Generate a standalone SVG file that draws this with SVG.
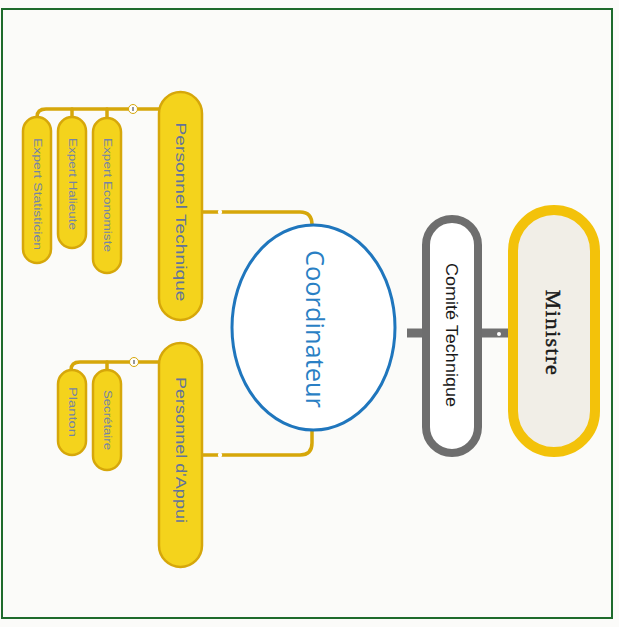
<svg xmlns="http://www.w3.org/2000/svg" width="619" height="627" viewBox="0 0 619 627">
<style>
.bg{fill:#fbfbf9}
.frame{fill:none;stroke:#1e6b2c;stroke-width:2}
.ynode{fill:#f4d31c;stroke:#d6a70a;stroke-width:2.5}
.ylink{fill:none;stroke:#d6a70a;stroke-width:3.5;stroke-linecap:round}
.glink{fill:none;stroke:#707070;stroke-width:9}
.dot{fill:#ffffff;stroke:#d6a70a;stroke-width:1}
.lbl{font-family:"Liberation Sans",Arial,sans-serif;fill:#63739a;text-anchor:middle;dominant-baseline:central}
.sm{fill:#7584a6}
</style>
<rect class="bg" x="0" y="0" width="619" height="627"/>
<rect class="frame" x="2" y="9" width="610" height="609"/>

<g id="connectors">
  <path class="ylink" d="M202,212 H300 Q312,212 312,225"/>
  <path class="ylink" d="M312,430 V443 Q312,455 300,455 H202"/>
  <path class="ylink" d="M159,109 H46 Q37,109 37,117"/>
  <path class="ylink" d="M72,109 V117"/>
  <path class="ylink" d="M107,109 V118"/>
  <path class="ylink" d="M159,362 H80 Q71,362 71,370"/>
  <path class="ylink" d="M107,362 V370"/>
  <path class="glink" d="M407,333 H426"/>
  <path class="glink" d="M478,333 H510"/>
  <circle cx="220" cy="212" r="2.2" fill="#ffffff"/>
  <circle cx="220" cy="455" r="2.2" fill="#ffffff"/>
  <circle cx="499" cy="334" r="2" fill="#ffffff"/>
  <g id="collapse-tech">
    <circle class="dot" cx="133" cy="109" r="4.5"/>
    <line x1="133" y1="107" x2="133" y2="111" stroke="#555555" stroke-width="1.2"/>
  </g>
  <g id="collapse-appui">
    <circle class="dot" cx="134" cy="362" r="4.5"/>
    <line x1="134" y1="360" x2="134" y2="364" stroke="#555555" stroke-width="1.2"/>
  </g>
</g>

<g id="ministre">
  <rect x="513" y="210" width="82" height="242" rx="41" fill="#f1eee7" stroke="#f3c20a" stroke-width="10"/>
  <text x="553" y="333" transform="rotate(90 553 333)" font-family="'Liberation Serif','Times New Roman',serif" font-size="22" letter-spacing="1.5" fill="#1a1a1a" stroke="#1a1a1a" stroke-width="0.5" text-anchor="middle" dominant-baseline="central">Ministre</text>
</g>

<g id="comite">
  <rect x="426" y="219" width="52" height="234" rx="26" fill="#ffffff" stroke="#6e6e6e" stroke-width="8"/>
  <text x="451" y="335" transform="rotate(90 451 335)" font-family="'Liberation Sans',Arial,sans-serif" font-size="16" textLength="144" lengthAdjust="spacingAndGlyphs" fill="#1a1a1a" text-anchor="middle" dominant-baseline="central">Comité Technique</text>
</g>

<g id="coordinateur">
  <ellipse cx="313.5" cy="327.5" rx="81.5" ry="102.5" fill="#ffffff" stroke="#1f76bd" stroke-width="3"/>
  <text x="316" y="329" transform="rotate(90 316 329)" font-family="'Open Sans','Liberation Sans',sans-serif" font-size="25" textLength="158" lengthAdjust="spacingAndGlyphs" fill="#2a7fc4" text-anchor="middle" dominant-baseline="central">Coordinateur</text>
</g>

<g id="personnel-technique">
  <rect class="ynode" x="159" y="92" width="43" height="228" rx="21.5"/>
  <text class="lbl" x="181" y="212" transform="rotate(90 181 212)" font-size="15" textLength="179" lengthAdjust="spacingAndGlyphs">Personnel Technique</text>
</g>

<g id="personnel-appui">
  <rect class="ynode" x="159" y="343" width="43" height="224" rx="21.5"/>
  <text class="lbl" x="181" y="450" transform="rotate(90 181 450)" font-size="15" textLength="146" lengthAdjust="spacingAndGlyphs">Personnel d'Appui</text>
</g>

<g id="expert-statisticien">
  <rect class="ynode" x="23" y="117" width="28" height="146" rx="14"/>
  <text class="lbl sm" x="37" y="194" transform="rotate(90 37 194)" font-size="10" textLength="112" lengthAdjust="spacingAndGlyphs">Expert Statisticien</text>
</g>

<g id="expert-halieute">
  <rect class="ynode" x="58" y="117" width="28" height="131" rx="14"/>
  <text class="lbl sm" x="72" y="184" transform="rotate(90 72 184)" font-size="10" textLength="92" lengthAdjust="spacingAndGlyphs">Expert Halieute</text>
</g>

<g id="expert-economiste">
  <rect class="ynode" x="93" y="118" width="28" height="155" rx="14"/>
  <text class="lbl sm" x="107" y="195" transform="rotate(90 107 195)" font-size="10" textLength="114" lengthAdjust="spacingAndGlyphs">Expert Economiste</text>
</g>

<g id="planton">
  <rect class="ynode" x="58" y="370" width="28" height="85" rx="14"/>
  <text class="lbl sm" x="72" y="412" transform="rotate(90 72 412)" font-size="10" textLength="50" lengthAdjust="spacingAndGlyphs">Planton</text>
</g>

<g id="secretaire">
  <rect class="ynode" x="93" y="370" width="28" height="100" rx="14"/>
  <text class="lbl sm" x="107" y="420" transform="rotate(90 107 420)" font-size="10" textLength="60" lengthAdjust="spacingAndGlyphs">Secrétaire</text>
</g>
</svg>
